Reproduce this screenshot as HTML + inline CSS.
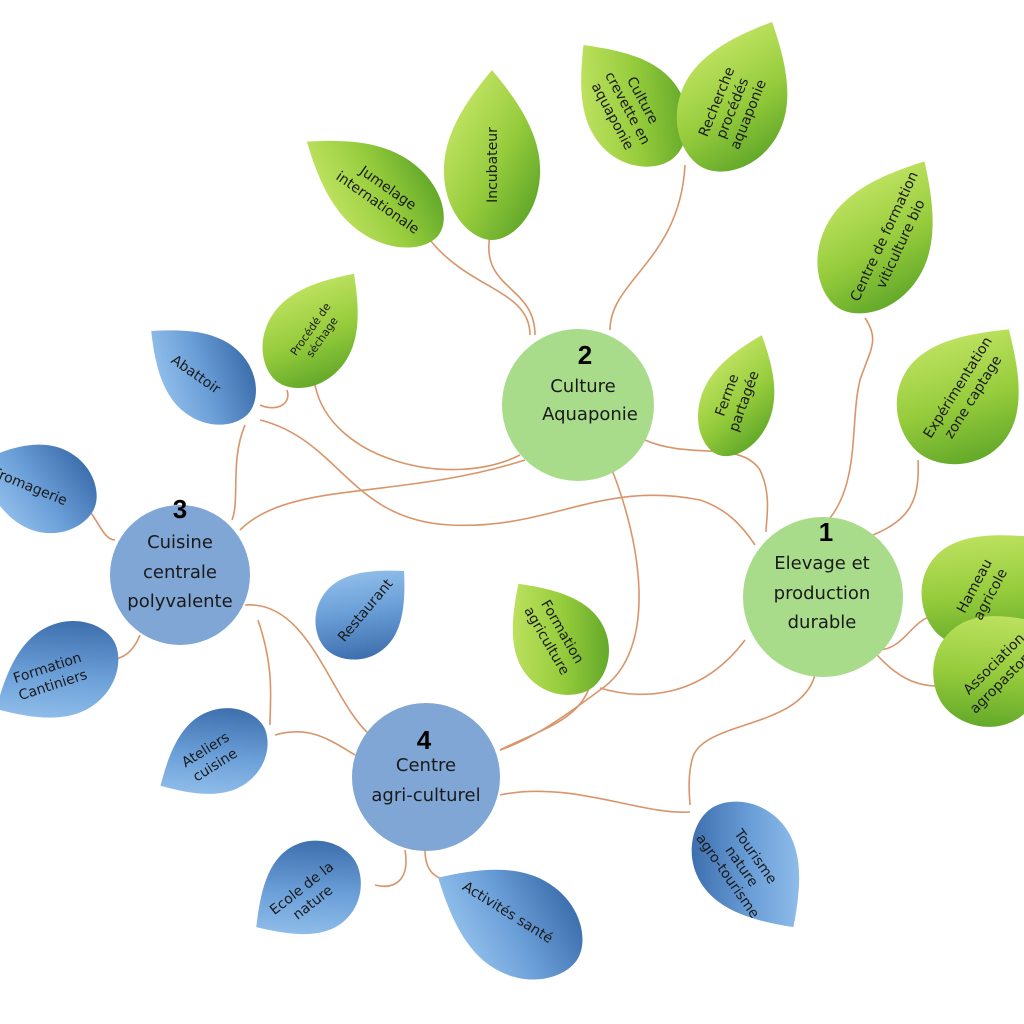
<!DOCTYPE html>
<html><head><meta charset="utf-8"><style>
html,body{margin:0;padding:0;background:#fff;}
svg{display:block;}
text{font-family:"DejaVu Sans","Liberation Sans",sans-serif;fill:#1a1a1a;}
.c{fill:none;stroke:#d9956a;stroke-width:1.6;}
.t{font-size:14px;text-anchor:middle;}
.n{font-size:18px;text-anchor:middle;}
.num{font-size:26px;font-weight:bold;text-anchor:middle;font-family:"Liberation Sans",sans-serif;fill:#000;}
</style></head><body>
<svg width="1024" height="1024" viewBox="0 0 1024 1024" xmlns="http://www.w3.org/2000/svg">
<defs>
<linearGradient id="g" x1="0" y1="0" x2="1" y2="1"><stop offset="0" stop-color="#d4ee74"/><stop offset="0.55" stop-color="#96cc3c"/><stop offset="1" stop-color="#4e9a22"/></linearGradient>
<linearGradient id="b" x1="0" y1="0" x2="1" y2="1"><stop offset="0" stop-color="#a9d3f7"/><stop offset="0.5" stop-color="#6b9fd8"/><stop offset="1" stop-color="#2d5d9e"/></linearGradient>
<path id="leaf" d="M0,-85 C25,-55 50,-20 48,20 C46,60 20,85 0,85 C-20,85 -46,60 -48,20 C-50,-20 -25,-55 0,-85Z"/>
</defs>

<!-- connectors -->
<path class="c" d="M530,335 C530,290 470,290 430,240"/>
<path class="c" d="M535,335 C535,285 480,290 490,235"/>
<path class="c" d="M610,330 C610,280 680,260 685,165"/>
<path class="c" d="M520,455 C450,490 330,460 315,385"/>
<path class="c" d="M645,440 C690,460 740,440 760,470 C772,495 766,520 766,532"/>
<path class="c" d="M612,470 C640,540 660,650 600,690 C560,720 530,740 500,750"/>
<path class="c" d="M525,460 C400,500 290,480 240,530"/>
<path class="c" d="M260,420 C340,440 350,520 450,525 C550,530 600,480 700,500 C730,510 745,530 755,545"/>
<path class="c" d="M260,405 C275,412 292,405 287,390"/>
<path class="c" d="M245,425 C230,460 240,500 232,520"/>
<path class="c" d="M115,540 C100,540 95,505 78,505"/>
<path class="c" d="M140,635 C130,660 115,660 100,660"/>
<path class="c" d="M245,605 C310,600 330,700 370,735"/>
<path class="c" d="M258,620 C275,670 270,700 270,725"/>
<path class="c" d="M275,735 C310,725 330,740 355,755"/>
<path class="c" d="M405,850 C410,880 395,890 375,885"/>
<path class="c" d="M425,850 C425,875 440,880 450,880"/>
<path class="c" d="M500,795 C570,780 640,815 690,812"/>
<path class="c" d="M500,750 C540,730 580,720 590,685"/>
<path class="c" d="M815,675 C800,730 700,720 692,760 C687,780 690,800 690,805"/>
<path class="c" d="M745,640 C700,700 640,700 600,688"/>
<path class="c" d="M830,518 C860,480 850,420 860,380 C870,350 880,340 865,318"/>
<path class="c" d="M873,535 C910,520 920,500 918,460"/>
<path class="c" d="M877,650 C905,650 910,620 935,615"/>
<path class="c" d="M877,655 C900,680 920,688 948,686"/>

<!-- green leaves -->
<use href="#leaf" fill="url(#g)" transform="translate(373,188) rotate(-55) scale(0.9,0.95)"/>
<use href="#leaf" fill="url(#g)" transform="translate(492,155) rotate(0) scale(1,1)"/>
<use href="#leaf" fill="url(#g)" transform="translate(628,102) rotate(-38) scale(1,0.85)"/>
<use href="#leaf" fill="url(#g)" transform="translate(738,95) rotate(25) scale(1.1,0.95)"/>
<use href="#leaf" fill="url(#g)" transform="translate(316,328) rotate(35) scale(0.9,0.78)"/>
<use href="#leaf" fill="url(#g)" transform="translate(882,235) rotate(30) scale(1.1,1.0)"/>
<use href="#leaf" fill="url(#g)" transform="translate(740,395) rotate(20) scale(0.75,0.75)"/>
<use href="#leaf" fill="url(#g)" transform="translate(965,392) rotate(35) scale(1.25,0.9)"/>
<use href="#leaf" fill="url(#g)" transform="translate(985,585) rotate(45) scale(1.15,0.8)"/>
<use href="#leaf" fill="url(#g)" transform="translate(998,665) rotate(55) scale(1.15,0.8)"/>
<use href="#leaf" fill="url(#g)" transform="translate(555,636) rotate(-35) scale(0.95,0.75)"/>

<!-- blue leaves -->
<use href="#leaf" fill="url(#b)" transform="translate(200,372) rotate(-50) scale(0.85,0.75)"/>
<use href="#leaf" fill="url(#b)" transform="translate(35,485) rotate(-70) scale(0.9,0.75)"/>
<use href="#leaf" fill="url(#b)" transform="translate(55,675) rotate(-120) scale(0.95,0.8)"/>
<use href="#leaf" fill="url(#b)" transform="translate(365,610) rotate(45) scale(0.85,0.65)"/>
<use href="#leaf" fill="url(#b)" transform="translate(212,756) rotate(-120) scale(0.85,0.7)"/>
<use href="#leaf" fill="url(#b)" transform="translate(305,893) rotate(-125) scale(0.95,0.7)"/>
<use href="#leaf" fill="url(#b)" transform="translate(508,918) rotate(-60) scale(1.05,0.95)"/>
<use href="#leaf" fill="url(#b)" transform="translate(752,868) rotate(145) scale(1.05,0.85)"/>

<!-- circles -->
<circle cx="578" cy="405" r="76" fill="#a8dc8a"/>
<circle cx="823" cy="597" r="80" fill="#a8dc8a"/>
<circle cx="180" cy="575" r="70" fill="#7fa6d4"/>
<circle cx="426" cy="777" r="74" fill="#7fa6d4"/>

<text class="num" x="585" y="364">2</text>
<text class="n" x="583" y="392">Culture</text>
<text class="n" x="590" y="420">Aquaponie</text>
<text class="num" x="826" y="541">1</text>
<text class="n" x="822" y="569">Elevage et</text>
<text class="n" x="822" y="599">production</text>
<text class="n" x="822" y="628">durable</text>
<text class="num" x="180" y="518">3</text>
<text class="n" x="180" y="548">Cuisine</text>
<text class="n" x="180" y="578">centrale</text>
<text class="n" x="180" y="607">polyvalente</text>
<text class="num" x="424" y="749">4</text>
<text class="n" x="426" y="771">Centre</text>
<text class="n" x="426" y="801">agri-culturel</text>

<!-- leaf labels -->
<g transform="translate(383,195) rotate(35)"><text class="t" y="-4">Jumelage</text><text class="t" y="14">internationale</text></g>
<g transform="translate(492,165) rotate(-90)"><text class="t" y="5">Incubateur</text></g>
<g transform="translate(628,108) rotate(62)"><text class="t" y="-12">Culture</text><text class="t" y="5">crevette en</text><text class="t" y="22">aquaponie</text></g>
<g transform="translate(732,108) rotate(-68)"><text class="t" y="-12">Recherche</text><text class="t" y="5">procédés</text><text class="t" y="22">aquaponie</text></g>
<g transform="translate(316,333) rotate(-55)"><text class="t" style="font-size:11px" y="-3">Procédé de</text><text class="t" style="font-size:11px" y="11">séchage</text></g>
<g transform="translate(892,240) rotate(-65)"><text class="t" y="-4">Centre de formation</text><text class="t" y="14">viticulture bio</text></g>
<g transform="translate(735,398) rotate(-70)"><text class="t" y="-4">Ferme</text><text class="t" y="14">partagée</text></g>
<g transform="translate(965,392) rotate(-58)"><text class="t" y="-4">Expérimentation</text><text class="t" y="14">zone captage</text></g>
<g transform="translate(982,590) rotate(-62)"><text class="t" y="-4">Hameau</text><text class="t" y="14">agricole</text></g>
<g transform="translate(1000,670) rotate(-45)"><text class="t" y="-4">Association</text><text class="t" y="14">agropastorale</text></g>
<g transform="translate(555,636) rotate(60)"><text class="t" y="-4">Formation</text><text class="t" y="14">agriculture</text></g>
<g transform="translate(196,374) rotate(35)"><text class="t" y="5">Abattoir</text></g>
<g transform="translate(30,486) rotate(22)"><text class="t" y="5">Fromagerie</text></g>
<g transform="translate(50,676) rotate(-18)"><text class="t" y="-4">Formation</text><text class="t" y="14">Cantiniers</text></g>
<g transform="translate(365,610) rotate(-50)"><text class="t" y="5">Restaurant</text></g>
<g transform="translate(210,757) rotate(-32)"><text class="t" y="-4">Ateliers</text><text class="t" y="14">cuisine</text></g>
<g transform="translate(307,895) rotate(-38)"><text class="t" y="-4">Ecole de la</text><text class="t" y="14">nature</text></g>
<g transform="translate(508,912) rotate(32)"><text class="t" y="5">Activités santé</text></g>
<g transform="translate(742,866) rotate(55)"><text class="t" y="-12">Tourisme</text><text class="t" y="5">nature</text><text class="t" y="22">agro-tourisme</text></g>
</svg>
</body></html>
